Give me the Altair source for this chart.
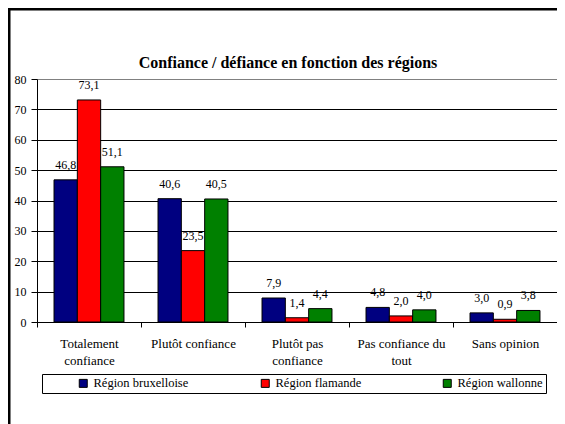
import json
import altair as alt
import pandas as pd

FONT = "Liberation Serif, Times New Roman, serif"

categories = ["Totalement confiance", "Plutôt confiance", "Plutôt pas confiance",
              "Pas confiance du tout", "Sans opinion"]
label_lines = [["Totalement", "confiance"], ["Plutôt confiance"], ["Plutôt pas", "confiance"],
               ["Pas confiance du", "tout"], ["Sans opinion"]]
series = ["Région bruxelloise", "Région flamande", "Région wallonne"]
colors = ["#000080", "#FF0000", "#008000"]
bruxelles = [46.8, 40.6, 7.9, 4.8, 3.0]
flandre = [73.1, 23.5, 1.4, 2.0, 0.9]
wallonie = [51.1, 40.5, 4.4, 4.0, 3.8]

rows = []
for s, vals in zip(series, [bruxelles, flandre, wallonie]):
    for c, v in zip(categories, vals):
        rows.append({"cat": c, "serie": s, "val": v})
df = pd.DataFrame(rows)

expr = ""
for c, lines in zip(categories, label_lines):
    expr += f"datum.label == {json.dumps(c, ensure_ascii=False)} ? {json.dumps(lines, ensure_ascii=False)} : "
expr += "datum.label"

x = alt.X("cat:N", sort=categories,
          scale=alt.Scale(paddingInner=0, paddingOuter=0),
          axis=alt.Axis(title=None, labelAngle=0, tickBand="extent", labelExpr=expr,
                        labelFont=FONT, labelFontSize=13, labelColor="black",
                        domainColor="black", tickColor="black", tickSize=5,
                        labelPadding=10, labelLineHeight=17, grid=False, labelLimit=300))
xo = alt.XOffset("serie:N", sort=series, scale=alt.Scale(paddingInner=0, paddingOuter=0.73))
y = alt.Y("val:Q", scale=alt.Scale(domain=[0, 80]),
          axis=alt.Axis(title=None, values=list(range(0, 81, 10)), grid=True,
                        gridColor={"condition": {"test": "datum.value == 80", "value": "#808080"},
                                   "value": "#000000"},
                        labelFont=FONT, labelFontSize=12, labelColor="black",
                        domainColor="black", tickColor="black", tickSize=6, labelPadding=5))

base = alt.Chart(df)

bars = base.mark_bar(stroke="black", strokeWidth=1).encode(
    x=x, xOffset=xo, y=y,
    color=alt.Color("serie:N", sort=series,
                    scale=alt.Scale(domain=series, range=colors),
                    legend=alt.Legend(orient="none", legendX=5, legendY=295,
                                      direction="horizontal", columns=3, gridAlign="all",
                                      columnPadding=70, title=" ", titleOrient="left",
                                      titlePadding=32, padding=3, strokeColor="black",
                                      symbolType="square", symbolSize=64,
                                      symbolStrokeColor="black", symbolStrokeWidth=1,
                                      labelFont=FONT, labelFontSize=12.5, labelColor="black")),
)

text = base.transform_calculate(
    lbl="replace(format(datum.val, '.1f'), '.', ',')"
).mark_text(font=FONT, fontSize=12, color="black", baseline="middle", dy=-15).encode(
    x=x, xOffset=xo, y=y, text=alt.Text("lbl:N"),
)

one = pd.DataFrame({"k": [0]})
frame_left = alt.Chart(one).mark_rule(color="black", strokeWidth=3).encode(
    x=alt.value(-28), y=alt.value(-71), y2=alt.value(345))
frame_top = alt.Chart(one).mark_rule(color="black", strokeWidth=3).encode(
    y=alt.value(-70), x=alt.value(-29), x2=alt.value(521))

chart = alt.layer(bars, text, frame_left, frame_top).properties(
    width=520, height=243,
    padding={"left": 29, "top": 71, "right": 0, "bottom": 102},
    autosize="none",
    title=alt.TitleParams("Confiance / défiance en fonction des régions", font=FONT,
                          fontSize=16, fontWeight="bold", color="black", anchor="middle",
                          frame="group", offset=0, dx=-9, dy=72, baseline="middle"),
).configure_view(stroke="#808080", strokeWidth=1).configure(background="white")

chart.save("out.html", embed_options={"renderer": "svg", "actions": False})
